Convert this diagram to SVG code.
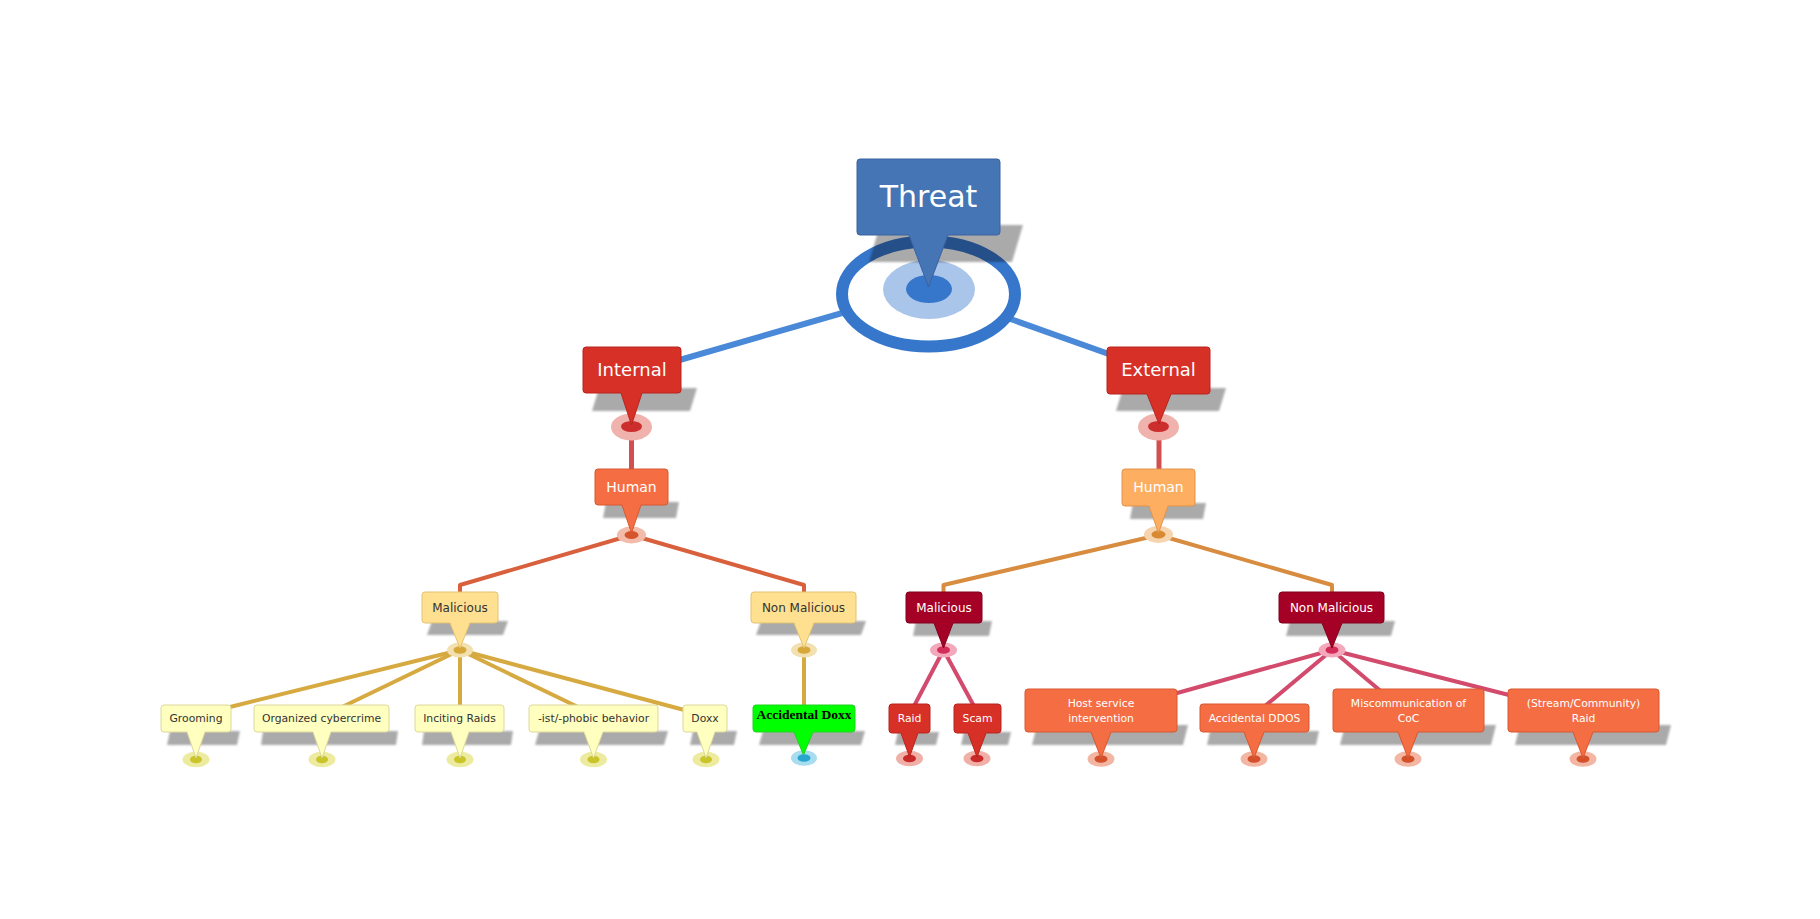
<svg xmlns="http://www.w3.org/2000/svg" width="1820" height="919" viewBox="0 0 1820 919">
<style>
text{font-family:"DejaVu Sans",Verdana,"Liberation Sans",sans-serif;text-anchor:middle}
.w{fill:#fff}
.d{fill:#333}
.t30{font-size:30px}
.t18{font-size:18px}
.t14{font-size:14px}
.t12{font-size:12px}
.t11{font-size:10.8px}
.sh{fill:#000;opacity:.33;filter:url(#blur)}
.blue{fill:#4575b4;stroke:#3a62a0}
.red{fill:#d73027;stroke:#b8241e}
.org{fill:#f46d43;stroke:#d8582e}
.lorg{fill:#fdae61;stroke:#e3934a}
.ylw{fill:#fee090;stroke:#e2c272}
.lyl{fill:#ffffbf;stroke:#dcd89a}
.crim{fill:#a50026;stroke:#80001e}
.grn{fill:#00ff00;stroke:#22d022}
.c{fill:none;stroke-linejoin:round}
.cb{stroke:#4a88d8;stroke-width:6}
.cr{stroke:#d24f4f;stroke-width:5}
.co{stroke:#d9603c;stroke-width:4}
.ca{stroke:#d88c40;stroke-width:4}
.cy{stroke:#d6aa40;stroke-width:4}
.cp{stroke:#d24a6c;stroke-width:4}
</style>
<defs>
<filter id="blur" x="-10%" y="-30%" width="120%" height="160%"><feGaussianBlur stdDeviation="1.2"/></filter>
</defs>
<rect width="1820" height="919" fill="#fff"/>
<g id="connectors" class="c">
<line class="cb" x1="929" y1="288" x2="645" y2="370"/>
<line class="cb" x1="929" y1="290" x2="1120" y2="358"/>
<line class="cr" x1="631.5" y1="427" x2="631.5" y2="475"/>
<line class="cr" x1="1159" y1="427" x2="1159" y2="475"/>
<polyline class="co" points="631.5,535 460,585 460,600"/>
<polyline class="co" points="631.5,535 804,585 804,600"/>
<polyline class="ca" points="1158.5,535 943.5,585 943.5,600"/>
<polyline class="ca" points="1158.5,535 1332,585 1332,600"/>
<line class="cy" x1="460" y1="650" x2="226" y2="708"/>
<line class="cy" x1="460" y1="650" x2="340" y2="708"/>
<line class="cy" x1="460" y1="650" x2="460" y2="710"/>
<line class="cy" x1="460" y1="650" x2="578" y2="707"/>
<line class="cy" x1="460" y1="650" x2="688" y2="711"/>
<line class="cy" x1="804" y1="650" x2="804" y2="710"/>
<line class="cp" x1="943.5" y1="650" x2="913" y2="708"/>
<line class="cp" x1="943.5" y1="650" x2="975" y2="708"/>
<line class="cp" x1="1332" y1="650" x2="1170" y2="695"/>
<line class="cp" x1="1332" y1="650" x2="1265" y2="706"/>
<line class="cp" x1="1332" y1="650" x2="1383" y2="693"/>
<line class="cp" x1="1332" y1="650" x2="1513" y2="696"/>
</g>
<g id="threat">
<ellipse cx="928.5" cy="294" rx="86.5" ry="52.5" fill="#fff" stroke="#3677cc" stroke-width="12"/>
<ellipse cx="929" cy="289.5" rx="46" ry="29.5" fill="#a9c5ea"/>
<ellipse cx="929" cy="289" rx="23" ry="14" fill="#3677cc"/>
<polygon class="sh" points="869,262 1012,262 1023,225 880,225"/>
<path class="blue" d="M860,159 H997 Q1000,159 1000,162 V232 Q1000,235 997,235 H948 L928.5,287 L909,235 H860 Q857,235 857,232 V162 Q857,159 860,159 Z"/>
<text class="w t30" x="928.5" y="207">Threat</text>
</g>
<g id="internal">
<ellipse cx="631.5" cy="427" rx="20.5" ry="13.5" fill="#f0b2ac"/>
<ellipse cx="631.5" cy="426.5" rx="10.5" ry="5.5" fill="#cc2e2e"/>
<polygon class="sh" points="592,411 690,411 697,388 599,388"/>
<path class="red" d="M586,347 H678 Q681,347 681,350 V390 Q681,393 678,393 H642 L631.5,425 L621,393 H586 Q583,393 583,390 V350 Q583,347 586,347 Z"/>
<text class="w t18" x="632" y="376">Internal</text>
</g>
<g id="external">
<ellipse cx="1158.5" cy="427" rx="20.5" ry="13.5" fill="#f0b2ac"/>
<ellipse cx="1158.5" cy="426.5" rx="10.5" ry="5.5" fill="#cc2e2e"/>
<polygon class="sh" points="1116,411 1219,411 1226,388 1123,388"/>
<path class="red" d="M1110,347 H1207 Q1210,347 1210,350 V391 Q1210,394 1207,394 H1171 L1159,424 L1147,394 H1110 Q1107,394 1107,391 V350 Q1107,347 1110,347 Z"/>
<text class="w t18" x="1158.5" y="376">External</text>
</g>
<g id="human-internal">
<ellipse cx="631.5" cy="535" rx="14.5" ry="8.5" fill="#f3bcaa"/>
<ellipse cx="631.5" cy="535" rx="7" ry="4" fill="#d4552c"/>
<polygon class="sh" points="603,518 676,518 679,502 606,502"/>
<path class="org" d="M598,469 H665 Q668,469 668,472 V502 Q668,505 665,505 H641 L631.5,533 L622,505 H598 Q595,505 595,502 V472 Q595,469 598,469 Z"/>
<text class="w t14" x="631.5" y="492">Human</text>
</g>
<g id="human-external">
<ellipse cx="1158.5" cy="534.5" rx="14.5" ry="8.5" fill="#f6d4ae"/>
<ellipse cx="1158.5" cy="534.5" rx="7" ry="4" fill="#d98a30"/>
<polygon class="sh" points="1130,519 1203,519 1206,503 1133,503"/>
<path class="lorg" d="M1125,469 H1192 Q1195,469 1195,472 V503 Q1195,506 1192,506 H1168 L1158.5,533 L1149,506 H1125 Q1122,506 1122,503 V472 Q1122,469 1125,469 Z"/>
<text class="w t14" x="1158.5" y="492">Human</text>
</g>
<g id="malicious-internal">
<ellipse cx="460" cy="650" rx="13" ry="7.5" fill="#f2e0b0"/>
<ellipse cx="460" cy="650" rx="6.5" ry="3.8" fill="#d6a83a"/>
<polygon class="sh" points="427,635 503,635 508,621 432,621"/>
<path class="ylw" d="M425,592 H495 Q498,592 498,595 V620 Q498,623 495,623 H470 L460,648 L450,623 H425 Q422,623 422,620 V595 Q422,592 425,592 Z"/>
<text class="d t12" x="460" y="612">Malicious</text>
</g>
<g id="nonmalicious-internal">
<ellipse cx="804" cy="650" rx="13" ry="7.5" fill="#f2e0b0"/>
<ellipse cx="804" cy="650" rx="6.5" ry="3.8" fill="#d6a83a"/>
<polygon class="sh" points="756,635 861,635 866,621 761,621"/>
<path class="ylw" d="M754,592 H853 Q856,592 856,595 V620 Q856,623 853,623 H814 L804,648 L794,623 H754 Q751,623 751,620 V595 Q751,592 754,592 Z"/>
<text class="d t12" x="803.5" y="612">Non Malicious</text>
</g>
<g id="malicious-external">
<ellipse cx="943.5" cy="650" rx="13.5" ry="7.5" fill="#f3a9bb"/>
<ellipse cx="943.5" cy="650" rx="6.5" ry="3.8" fill="#d42c58"/>
<polygon class="sh" points="913,636 989,636 992,621 916,621"/>
<path class="crim" d="M909,592 H979 Q982,592 982,595 V620 Q982,623 979,623 H953 L943.5,648 L934,623 H909 Q906,623 906,620 V595 Q906,592 909,592 Z"/>
<text class="w t12" x="944" y="612">Malicious</text>
</g>
<g id="nonmalicious-external">
<ellipse cx="1332" cy="650" rx="13.5" ry="7.5" fill="#f3a9bb"/>
<ellipse cx="1332" cy="650" rx="6.5" ry="3.8" fill="#d42c58"/>
<polygon class="sh" points="1286,636 1391,636 1395,621 1290,621"/>
<path class="crim" d="M1282,592 H1381 Q1384,592 1384,595 V620 Q1384,623 1381,623 H1342 L1332,648 L1322,623 H1282 Q1279,623 1279,620 V595 Q1279,592 1282,592 Z"/>
<text class="w t12" x="1331.5" y="612">Non Malicious</text>
</g>
<g id="grooming">
<ellipse cx="196" cy="759.5" rx="13.5" ry="7.8" fill="#edeb9f"/>
<ellipse cx="196" cy="759.5" rx="6" ry="3.8" fill="#c8c42a"/>
<polygon class="sh" points="167,745 237,745 240,731 170,731"/>
<path class="lyl" d="M164,705 H228 Q231,705 231,708 V729 Q231,732 228,732 H205 L196,758 L187,732 H164 Q161,732 161,729 V708 Q161,705 164,705 Z"/>
<text class="d t11" x="196" y="722">Grooming</text>
</g>
<g id="organized-cybercrime">
<ellipse cx="322" cy="759.5" rx="13.5" ry="7.8" fill="#edeb9f"/>
<ellipse cx="322" cy="759.5" rx="6" ry="3.8" fill="#c8c42a"/>
<polygon class="sh" points="261,745 396,745 398,731 263,731"/>
<path class="lyl" d="M257,705 H386 Q389,705 389,708 V729 Q389,732 386,732 H331 L322,758 L313,732 H257 Q254,732 254,729 V708 Q254,705 257,705 Z"/>
<text class="d t11" x="321.5" y="722">Organized cybercrime</text>
</g>
<g id="inciting-raids">
<ellipse cx="460" cy="759.5" rx="13.5" ry="7.8" fill="#edeb9f"/>
<ellipse cx="460" cy="759.5" rx="6" ry="3.8" fill="#c8c42a"/>
<polygon class="sh" points="422,745 511,745 513,731 424,731"/>
<path class="lyl" d="M418,705 H501 Q504,705 504,708 V729 Q504,732 501,732 H469 L460,758 L451,732 H418 Q415,732 415,729 V708 Q415,705 418,705 Z"/>
<text class="d t11" x="459.5" y="722">Inciting Raids</text>
</g>
<g id="phobic-behavior">
<ellipse cx="593.5" cy="759.5" rx="13.5" ry="7.8" fill="#edeb9f"/>
<ellipse cx="593.5" cy="759.5" rx="6" ry="3.8" fill="#c8c42a"/>
<polygon class="sh" points="535,745 664,745 668,731 539,731"/>
<path class="lyl" d="M532,705 H655 Q658,705 658,708 V729 Q658,732 655,732 H603 L593.5,758 L584,732 H532 Q529,732 529,729 V708 Q529,705 532,705 Z"/>
<text class="d t11" x="593.5" y="722">-ist/-phobic behavior</text>
</g>
<g id="doxx">
<ellipse cx="706" cy="759.5" rx="13.5" ry="7.8" fill="#edeb9f"/>
<ellipse cx="706" cy="759.5" rx="6" ry="3.8" fill="#c8c42a"/>
<polygon class="sh" points="690,745 734,745 737,731 693,731"/>
<path class="lyl" d="M686,705 H724 Q727,705 727,708 V729 Q727,732 724,732 H715 L706,758 L697,732 H686 Q683,732 683,729 V708 Q683,705 686,705 Z"/>
<text class="d t11" x="705" y="722">Doxx</text>
</g>
<g id="accidental-doxx">
<ellipse cx="804" cy="758" rx="13" ry="7.8" fill="#a8dcef"/>
<ellipse cx="804" cy="758" rx="6.5" ry="3.8" fill="#28a6cf"/>
<polygon class="sh" points="759,745 861,745 865,731 763,731"/>
<path class="grn" d="M756,705 H852 Q855,705 855,708 V729 Q855,732 852,732 H813 L803.5,755 L794,732 H756 Q753,732 753,729 V708 Q753,705 756,705 Z"/>
<text x="804" y="719" style="font-family:'Liberation Serif','Times New Roman',serif;font-weight:bold;font-size:13.5px;fill:#000">Accidental Doxx</text>
</g>
<g id="raid">
<ellipse cx="909.5" cy="758.5" rx="13.5" ry="7.8" fill="#f0b0a8"/>
<ellipse cx="909.5" cy="758.5" rx="6.5" ry="3.8" fill="#c82a2a"/>
<polygon class="sh" points="895,745 936,745 939,732 898,732"/>
<path class="red" d="M892,704 H927 Q930,704 930,707 V730 Q930,733 927,733 H918 L909.5,757 L901,733 H892 Q889,733 889,730 V707 Q889,704 892,704 Z"/>
<text class="w t11" x="909.5" y="722">Raid</text>
</g>
<g id="scam">
<ellipse cx="977" cy="758.5" rx="13.5" ry="7.8" fill="#f0b0a8"/>
<ellipse cx="977" cy="758.5" rx="6.5" ry="3.8" fill="#c82a2a"/>
<polygon class="sh" points="961,745 1008,745 1011,732 964,732"/>
<path class="red" d="M957,704 H998 Q1001,704 1001,707 V730 Q1001,733 998,733 H986 L977,757 L968,733 H957 Q954,733 954,730 V707 Q954,704 957,704 Z"/>
<text class="w t11" x="977.5" y="722">Scam</text>
</g>
<g id="host-service-intervention">
<ellipse cx="1101" cy="759" rx="13.5" ry="7.8" fill="#f2b6a2"/>
<ellipse cx="1101" cy="759" rx="6.5" ry="3.8" fill="#d4502a"/>
<polygon class="sh" points="1032,745 1183,745 1188,725 1037,725"/>
<path class="org" d="M1028,689 H1174 Q1177,689 1177,692 V729 Q1177,732 1174,732 H1111 L1101,758 L1091,732 H1028 Q1025,732 1025,729 V692 Q1025,689 1028,689 Z"/>
<text class="w t11" x="1101" y="707">Host service</text>
<text class="w t11" x="1101" y="722">intervention</text>
</g>
<g id="accidental-ddos">
<ellipse cx="1254" cy="759" rx="13.5" ry="7.8" fill="#f2b6a2"/>
<ellipse cx="1254" cy="759" rx="6.5" ry="3.8" fill="#d4502a"/>
<polygon class="sh" points="1207,745 1316,745 1319,731 1210,731"/>
<path class="org" d="M1203,704 H1306 Q1309,704 1309,707 V729 Q1309,732 1306,732 H1264 L1254,758 L1244,732 H1203 Q1200,732 1200,729 V707 Q1200,704 1203,704 Z"/>
<text class="w t11" x="1254.5" y="722">Accidental DDOS</text>
</g>
<g id="miscommunication-coc">
<ellipse cx="1408" cy="759" rx="13.5" ry="7.8" fill="#f2b6a2"/>
<ellipse cx="1408" cy="759" rx="6.5" ry="3.8" fill="#d4502a"/>
<polygon class="sh" points="1340,745 1491,745 1496,725 1345,725"/>
<path class="org" d="M1336,689 H1481 Q1484,689 1484,692 V729 Q1484,732 1481,732 H1418 L1408,758 L1398,732 H1336 Q1333,732 1333,729 V692 Q1333,689 1336,689 Z"/>
<text class="w t11" x="1408.5" y="707">Miscommunication of</text>
<text class="w t11" x="1408.5" y="722">CoC</text>
</g>
<g id="stream-community-raid">
<ellipse cx="1583" cy="759" rx="13.5" ry="7.8" fill="#f2b6a2"/>
<ellipse cx="1583" cy="759" rx="6.5" ry="3.8" fill="#d4502a"/>
<polygon class="sh" points="1515,745 1666,745 1671,725 1520,725"/>
<path class="org" d="M1511,689 H1656 Q1659,689 1659,692 V729 Q1659,732 1656,732 H1593 L1583,758 L1573,732 H1511 Q1508,732 1508,729 V692 Q1508,689 1511,689 Z"/>
<text class="w t11" x="1583.5" y="707">(Stream/Community)</text>
<text class="w t11" x="1583.5" y="722">Raid</text>
</g>
</svg>
